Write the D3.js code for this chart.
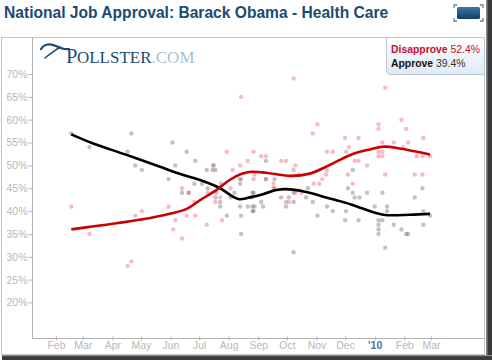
<!DOCTYPE html>
<html><head><meta charset="utf-8">
<script src="https://cdn.jsdelivr.net/npm/d3@7"></script>
<style>
html,body{margin:0;padding:0;background:#fff;}
svg{display:block;font-family:"Liberation Sans",Arial,Helvetica,sans-serif;}
</style></head>
<body>
<svg id="chart" width="492" height="360"></svg>
<script>
const title = "National Job Approval: Barack Obama - Health Care";
const yTicks = [20,25,30,35,40,45,50,55,60,65,70];
const monthTicks = ["2009-02-01","2009-03-01","2009-04-01","2009-05-01","2009-06-01","2009-07-01","2009-08-01","2009-09-01","2009-10-01","2009-11-01","2009-12-01","2010-01-01","2010-02-01","2010-03-01"];
const monthLabels = ["Feb","Mar","Apr","May","Jun","Jul","Aug","Sep","Oct","Nov","Dec","'10","Feb","Mar"];
const seriesNames = ["Disapprove","Approve"];
const latest = [52.4, 39.4];

const disapproveTrend = [
 ["2009-02-17",36.0],["2009-05-03",38.2],["2009-05-31",39.4],["2009-06-18",40.5],["2009-07-02",42.4],
 ["2009-07-19",44.6],["2009-08-02",46.8],["2009-08-14",48.1],["2009-08-25",48.6],["2009-09-09",48.4],
 ["2009-10-04",47.7],["2009-10-25",48.2],["2009-11-11",49.7],["2009-12-09",52.5],["2009-12-27",53.5],
 ["2010-01-11",54.1],["2010-01-27",53.7],["2010-02-28",52.4]];
const approveTrend = [
 ["2009-02-17",56.8],["2009-03-12",54.8],["2009-04-16",52.3],["2009-05-21",49.7],["2009-06-07",48.4],
 ["2009-07-02",46.8],["2009-07-23",45.0],["2009-08-05",43.2],["2009-08-12",42.6],["2009-08-23",43.0],
 ["2009-09-06",43.7],["2009-09-20",44.6],["2009-09-30",44.8],["2009-10-21",44.2],["2009-11-11",43.0],
 ["2009-12-02",41.8],["2009-12-16",40.8],["2010-01-10",39.2],["2010-02-07",39.2],["2010-02-28",39.4]];

const approvePolls = [
 ["2009-02-17",57],["2009-03-08",54],["2009-04-21",57],["2009-04-17",53],["2009-04-25",50],["2009-05-02",49],
 ["2009-06-03",55],["2009-06-06",50],["2009-05-30",47],["2009-06-18",53],["2009-06-27",51],["2009-06-13",44],
 ["2009-06-20",44],["2009-06-26",46],["2009-07-04",46],["2009-07-09",49],["2009-07-15",49],["2009-07-18",49],
 ["2009-07-16",50],["2009-07-10",45],["2009-07-18",43],["2009-07-23",42],["2009-07-23",41],["2009-07-30",39],
 ["2009-08-07",44],["2009-08-13",46],["2009-08-13",47],["2009-08-14",39],["2009-08-14",35],["2009-08-13",41],
 ["2009-08-21",41],["2009-08-26",44],["2009-08-28",41],["2009-08-26",40],["2009-07-24",46],["2009-07-19",44],
 ["2009-08-03",43],["2009-09-09",51],["2009-08-27",44],["2009-08-26",41],["2009-08-27",40],["2009-09-04",42],
 ["2009-09-09",47],["2009-09-18",47],["2009-09-18",45],["2009-09-25",43],["2009-10-03",43],["2009-09-30",41],
 ["2009-10-08",42],["2009-10-08",44],["2009-10-08",31],["2009-10-23",45],["2009-10-21",43],["2009-10-28",42],
 ["2009-11-02",39],["2009-11-12",41],["2009-11-18",40],["2009-12-02",40],["2009-12-01",38],["2009-12-04",45],
 ["2009-12-09",49],["2009-12-09",44],["2009-12-11",43],["2009-12-16",43],["2009-12-24",44],["2009-12-15",38],
 ["2010-01-01",41],["2010-01-05",38],["2010-01-05",37],["2010-01-05",36],["2010-01-05",35],["2010-01-09",38],
 ["2010-01-09",44],["2010-01-14",41],["2010-01-14",40],["2010-01-12",32],["2010-01-21",37],["2010-01-29",36],
 ["2010-02-03",35],["2010-02-05",35],["2010-02-12",43],["2010-02-20",45],["2010-02-21",40],["2010-02-21",37],
 ["2010-02-28",39],["2009-08-25",43],["2009-09-06",41]];

const disapprovePolls = [
 ["2009-02-17",41],["2009-03-08",35],["2009-04-17",28],["2009-04-21",29],["2009-04-25",39],["2009-05-02",40],
 ["2009-05-30",41],["2009-06-06",38],["2009-06-04",36],["2009-06-13",34],["2009-06-13",45],["2009-06-20",44],
 ["2009-06-18",39],["2009-06-27",39],["2009-06-26",42],["2009-07-09",37],["2009-07-10",44],["2009-07-16",50],
 ["2009-07-18",42],["2009-07-23",43],["2009-07-25",38],["2009-07-30",53],["2009-08-03",45],["2009-08-05",49],
 ["2009-08-13",50],["2009-08-14",47],["2009-08-21",51],["2009-08-27",53],["2009-08-28",48],["2009-08-14",65],
 ["2009-10-08",69],["2010-01-12",67],["2009-11-02",59],["2009-10-28",57],["2010-01-29",60],["2010-01-05",59],
 ["2010-01-05",58],["2010-02-03",58],["2009-12-01",56],["2009-12-15",56],["2010-01-09",55],["2010-01-21",55],
 ["2010-02-05",55],["2010-02-21",56],["2009-11-12",53],["2009-11-18",53],["2009-12-02",53],["2009-12-05",54],
 ["2010-01-05",53],["2010-01-09",53],["2010-01-05",52],["2010-01-09",52],["2010-01-31",54],["2010-02-14",52],
 ["2010-02-20",52],["2010-02-28",52],["2009-09-04",52],["2009-09-09",52],["2009-09-25",51],["2009-09-30",51],
 ["2009-10-10",50],["2009-10-08",49],["2009-12-11",51],["2009-12-24",50],["2009-12-15",51],["2009-11-12",49],
 ["2009-11-11",48],["2009-12-04",48],["2009-11-07",47],["2009-11-04",46],["2009-10-29",46],["2009-12-09",46],
 ["2010-01-12",48],["2010-02-12",48],["2010-02-20",48],["2009-08-27",47],["2009-09-09",47],["2009-09-17",46],
 ["2009-09-17",45],["2009-10-14",48],["2009-10-10",44],["2009-10-16",44],["2009-09-30",42],["2009-10-03",42]];

const parse = d3.timeParse("%Y-%m-%d");
const svg = d3.select("#chart");

const plot = {left:32, right:484, top:37, bottom:338};
const x = d3.scaleTime().domain([parse("2009-02-01"), parse("2010-03-01")]).range([56, 431]);
const y = d3.scaleLinear().domain([20,70]).range([302.5,74]);

// defs
const defs = svg.append("defs");
const lg = defs.append("linearGradient").attr("id","legGrad").attr("x1",0).attr("y1",0).attr("x2",0).attr("y2",1);
lg.append("stop").attr("offset","0%").attr("stop-color","#ffffff");
lg.append("stop").attr("offset","100%").attr("stop-color","#dfeaf5");
const ig = defs.append("linearGradient").attr("id","iconGrad").attr("x1",0).attr("y1",0).attr("x2",0).attr("y2",1);
ig.append("stop").attr("offset","0%").attr("stop-color","#3f74a3");
ig.append("stop").attr("offset","100%").attr("stop-color","#123f68");

// title
svg.append("text").attr("x",4).attr("y",18).attr("font-size",15.6).attr("font-weight","bold")
  .attr("fill","#1c4a73").text(title);

// icon
svg.append("rect").attr("x",457).attr("y",7).attr("width",23).attr("height",12).attr("rx",1.5)
  .attr("fill","url(#iconGrad)");
const br = [[454,5,1,1],[483,5,-1,1],[454,21,1,-1],[483,21,-1,-1]];
br.forEach(([bx,by,sx,sy])=>{
  svg.append("path").attr("d",`M${bx},${by+3*sy} L${bx},${by} L${bx+3*sx},${by}`)
    .attr("fill","none").attr("stroke","#5a86b0").attr("stroke-width",1.3);
});

// frame
svg.append("rect").attr("x",1.5).attr("y",37.5).attr("width",483).attr("height",317)
  .attr("fill","#fff").attr("stroke","#c4c4c4");
// shadow
svg.append("rect").attr("x",487).attr("y",0).attr("width",5).attr("height",360).attr("fill","#3a3a3a");
svg.append("rect").attr("x",486).attr("y",0).attr("width",1.5).attr("height",360).attr("fill","#8a8a8a");
svg.append("rect").attr("x",2).attr("y",356).attr("width",490).attr("height",4).attr("fill","#3a3a3a");
svg.append("rect").attr("x",2).attr("y",355).attr("width",490).attr("height",1.2).attr("fill","#8a8a8a");

// logo
const logo = svg.append("g");
logo.append("path").attr("d","M41,49 C44,44 50,43 56,46 C60,48 64,50 69,49")
  .attr("fill","none").attr("stroke","#1c4a73").attr("stroke-width",2.2).attr("stroke-linecap","round");
logo.append("path").attr("d","M60,47 C56,50 50,54 45,58")
  .attr("fill","none").attr("stroke","#1c4a73").attr("stroke-width",1.6).attr("stroke-linecap","round");
const lt = logo.append("text").attr("x",66).attr("y",63).attr("font-family","'Liberation Serif','DejaVu Serif',serif")
  .attr("fill","#1c4a73");
lt.append("tspan").attr("font-size",20.5).text("P");
lt.append("tspan").attr("font-size",17).attr("dx",-0.5).text("OLLSTER");
lt.append("tspan").attr("font-size",17).attr("fill","#a9bfd4").text(".COM");

// axes lines
svg.append("line").attr("x1",plot.left+0.5).attr("x2",plot.left+0.5).attr("y1",plot.top).attr("y2",plot.bottom)
  .attr("stroke","#b4b4b4");
svg.append("line").attr("x1",plot.left).attr("x2",plot.right).attr("y1",plot.bottom+0.5).attr("y2",plot.bottom+0.5)
  .attr("stroke","#b4b4b4");

// y axis
const yAxis = d3.axisLeft(y).tickValues(yTicks).tickSize(4).tickFormat(d=>d+"%");
const gy = svg.append("g").attr("transform",`translate(${plot.left+0.5},0)`).call(yAxis);
gy.select(".domain").remove();
gy.selectAll(".tick line").attr("stroke","#b4b4b4");
gy.selectAll(".tick text").attr("fill","#b8b8b8").attr("font-size",10.5)
  .attr("font-family","'Liberation Sans',Arial,sans-serif").attr("x",-5);

// x axis
const xAxis = d3.axisBottom(x).tickValues(monthTicks.map(parse)).tickSize(4)
  .tickFormat((d,i)=>monthLabels[i]);
const gx = svg.append("g").attr("transform",`translate(0,${plot.bottom-1.5})`).call(xAxis);
gx.select(".domain").remove();
gx.selectAll(".tick line").attr("stroke","#b4b4b4");
gx.selectAll(".tick text").attr("fill",(d,i)=>monthLabels[i]==="'10"?"#4d7199":"#b8b8b8")
  .attr("font-weight",(d,i)=>monthLabels[i]==="'10"?"bold":"normal")
  .attr("font-size",10.5).attr("font-family","'Liberation Sans',Arial,sans-serif").attr("dy","0.9em").attr("y",3);

// dots
const dots = svg.append("g");
dots.selectAll("circle.a").data(approvePolls).join("circle").attr("class","a")
  .attr("cx",d=>x(parse(d[0]))).attr("cy",d=>y(d[1])).attr("r",2.2)
  .attr("fill","#555").attr("fill-opacity",0.36);
dots.selectAll("circle.d").data(disapprovePolls).join("circle").attr("class","d")
  .attr("cx",d=>x(parse(d[0]))).attr("cy",d=>y(d[1])).attr("r",2.2)
  .attr("fill","#e0485e").attr("fill-opacity",0.36);

// trend lines
const line = d3.line().x(d=>x(parse(d[0]))).y(d=>y(d[1])).curve(d3.curveCatmullRom.alpha(0.5));
svg.append("path").datum(approveTrend).attr("d",line).attr("fill","none")
  .attr("stroke","#000").attr("stroke-width",2.6).attr("stroke-linejoin","round");
svg.append("path").datum(disapproveTrend).attr("d",line).attr("fill","none")
  .attr("stroke","#cc0000").attr("stroke-width",2.6).attr("stroke-linejoin","round");

// legend
svg.append("path").attr("d","M386.5,37.5 L484.5,37.5 L484.5,74.5 L390.5,74.5 Q386.5,74.5 386.5,70.5 Z")
  .attr("fill","url(#legGrad)").attr("stroke","#b9c9da");
const l1 = svg.append("text").attr("x",391).attr("y",53).attr("font-size",10.4).attr("fill","#c8102e");
l1.append("tspan").attr("font-weight","bold").text(seriesNames[0]);
l1.append("tspan").text(" "+latest[0]+"%");
const l2 = svg.append("text").attr("x",391).attr("y",67).attr("font-size",10.4).attr("fill","#333");
l2.append("tspan").attr("font-weight","bold").attr("fill","#111").text(seriesNames[1]);
l2.append("tspan").text(" "+latest[1]+"%");
</script>
</body></html>
